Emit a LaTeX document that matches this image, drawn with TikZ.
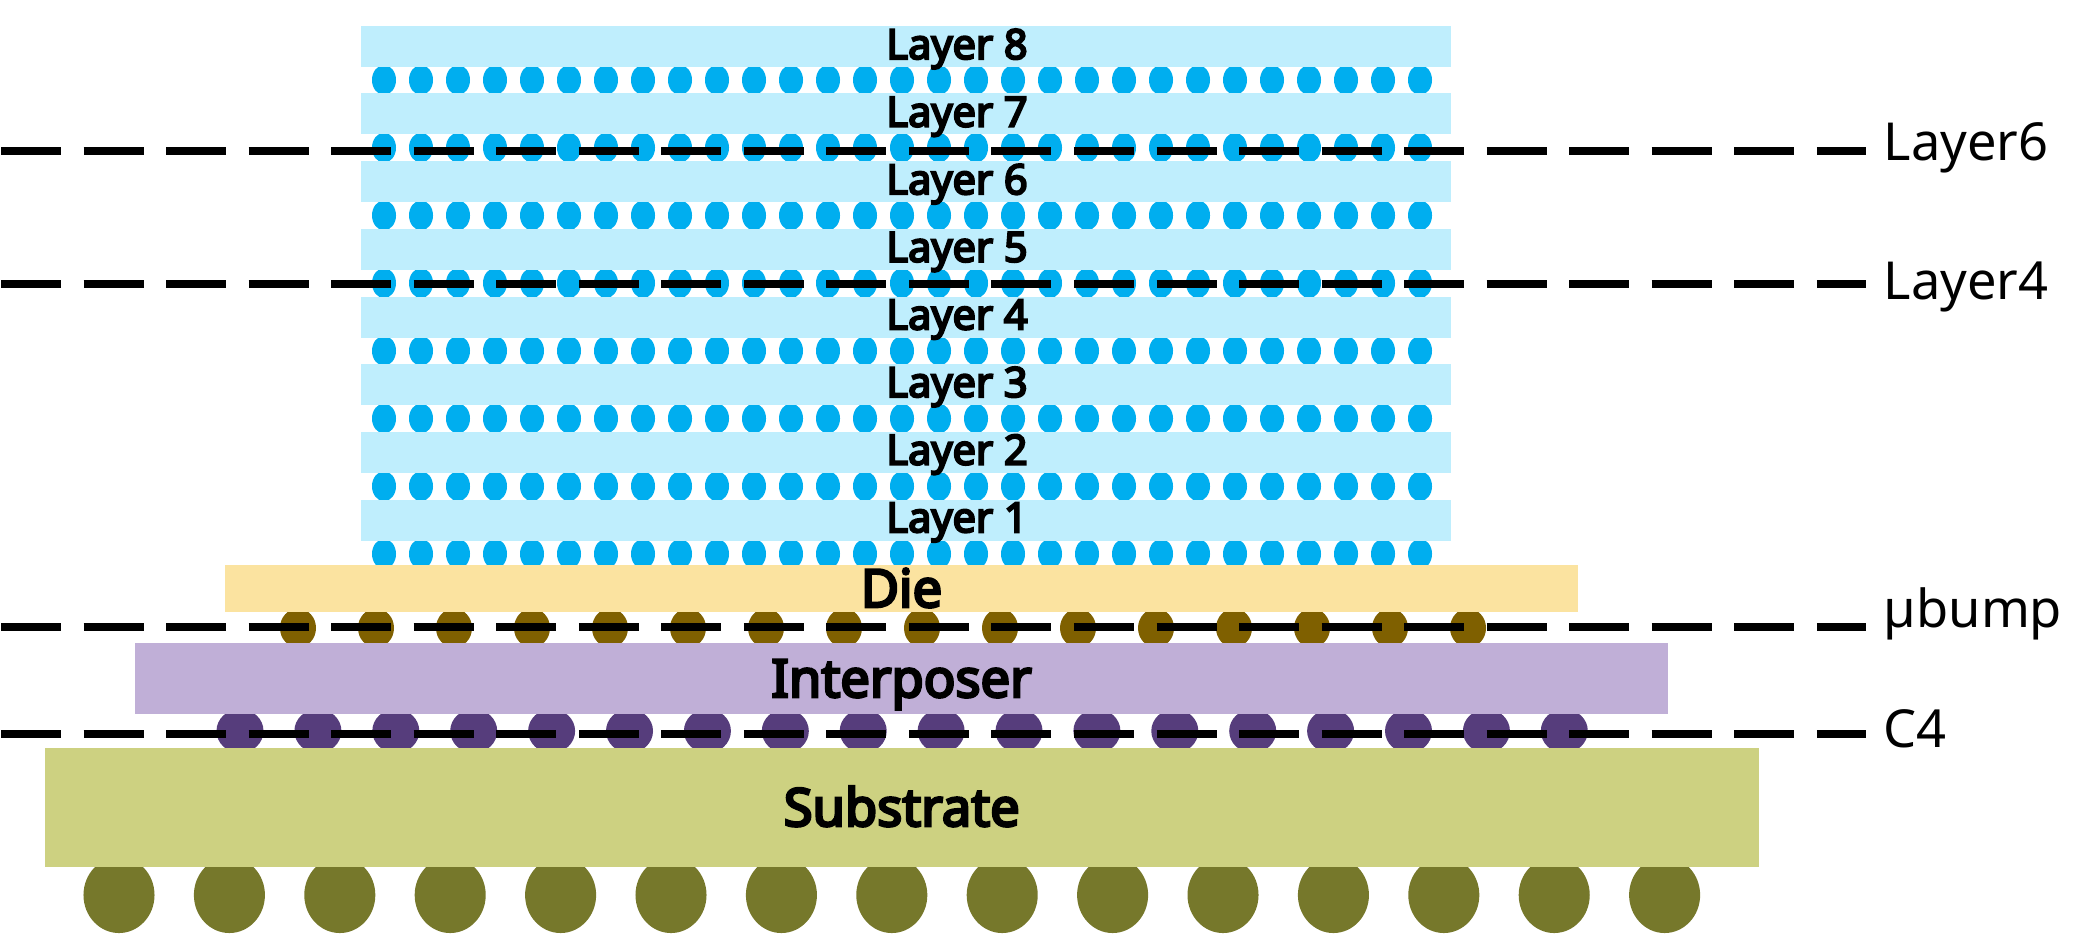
\documentclass[tikz,border=0pt]{standalone}
\usepackage{fontspec}
\setmainfont{Noto Sans}
\newfontfamily\heavyfont{Noto Sans}[FakeBold=5]
\usepackage{xcolor}
\usetikzlibrary{positioning}
\definecolor{dotblue}{HTML}{00AEEF}
\definecolor{barblue}{HTML}{BFEEFD}
\definecolor{dieyellow}{HTML}{FBE3A0}
\definecolor{mbumpbrown}{HTML}{7F6000}
\definecolor{interpurple}{HTML}{C0AFD7}
\definecolor{cfourpurple}{HTML}{563D7C}
\definecolor{subgreen}{HTML}{CDD181}
\definecolor{ballgreen}{HTML}{76782B}
\tikzset{
  layerbar/.style={anchor=north west, fill=barblue, inner sep=0pt, minimum width=10.90cm, minimum height=0.41cm},
  layertext/.style={anchor=base, inner sep=0pt, font=\heavyfont\fontsize{11.8pt}{13pt}\selectfont},
  stackbox/.style={inner sep=0pt, text height=0.37cm, text depth=0cm, font=\heavyfont\fontsize{14.9pt}{17pt}\selectfont},
  cutline/.style={line width=0.085cm, dash pattern=on 17.07pt off 6.4pt},
  cutlabel/.style={anchor=base west, inner sep=0pt, inner xsep=0.17cm, font=\fontsize{14.9pt}{17pt}\selectfont},
}
\begin{document}
\begin{tikzpicture}[x=0.01cm,y=-0.01cm]
  \useasboundingbox (0,0) rectangle (2098,933);
  % balls and bumps go first, the boxes cut them flat
  \foreach \k in {0,...,14}
    \fill[ballgreen] ({119+110.4*\k},895) ellipse [x radius=0.355cm, y radius=0.38cm];
  \foreach \k in {0,...,15}
    \fill[mbumpbrown] ({298+78.0*\k},628) ellipse [x radius=0.18cm, y radius=0.195cm];
  \foreach \k in {0,...,17}
    \fill[cfourpurple] ({240+77.9*\k},731) ellipse [x radius=0.235cm, y radius=0.22cm];
  \foreach \i in {1,...,8}
    \foreach \k in {0,...,28}
      \fill[dotblue] ({384+37*\k},{80+67.7*(8-\i)}) ellipse [x radius=0.12cm, y radius=0.15cm];
  % layers
  \foreach \i in {1,...,8} {
    \node (bar\i) [layerbar] at (360,{25+67.7*(8-\i)}) {};
    \node (barlabel\i) [layertext] at (957,{59+67.6*(8-\i)}) {Layer \i};
  }
  \node (die) [stackbox, fill=dieyellow, minimum width=13.53cm, minimum height=0.47cm] at (901.5,588.5) {Die};
  \node (interposer) [stackbox, fill=interpurple, minimum width=15.33cm, minimum height=0.71cm] at (901.5,678.5) {Interposer};
  \node (substrate) [stackbox, fill=subgreen, minimum width=17.13cm, minimum height=1.19cm] at (901.75,807.5) {Substrate};
  % cut lines
  \coordinate (cutsix) at (1,151);
  \coordinate (cutfour) at (1,284);
  \coordinate (cutbump) at (1,627);
  \coordinate (cutcfour) at (1,734);
  \node (labelsix) [cutlabel] at (1866,160) {Layer6};
  \node (labelfour) [cutlabel] at (1866,299) {Layer4};
  \node (labelbump) [cutlabel] at (1866,627) {µbump};
  \node (labelcfour) [cutlabel] at (1866,747) {C4};
  \draw[cutline] (cutsix) -- (cutsix -| labelsix.west);
  \draw[cutline] (cutfour) -- (cutfour -| labelfour.west);
  \draw[cutline] (cutbump) -- (cutbump -| labelbump.west);
  \draw[cutline] (cutcfour) -- (cutcfour -| labelcfour.west);
\end{tikzpicture}
\end{document}
